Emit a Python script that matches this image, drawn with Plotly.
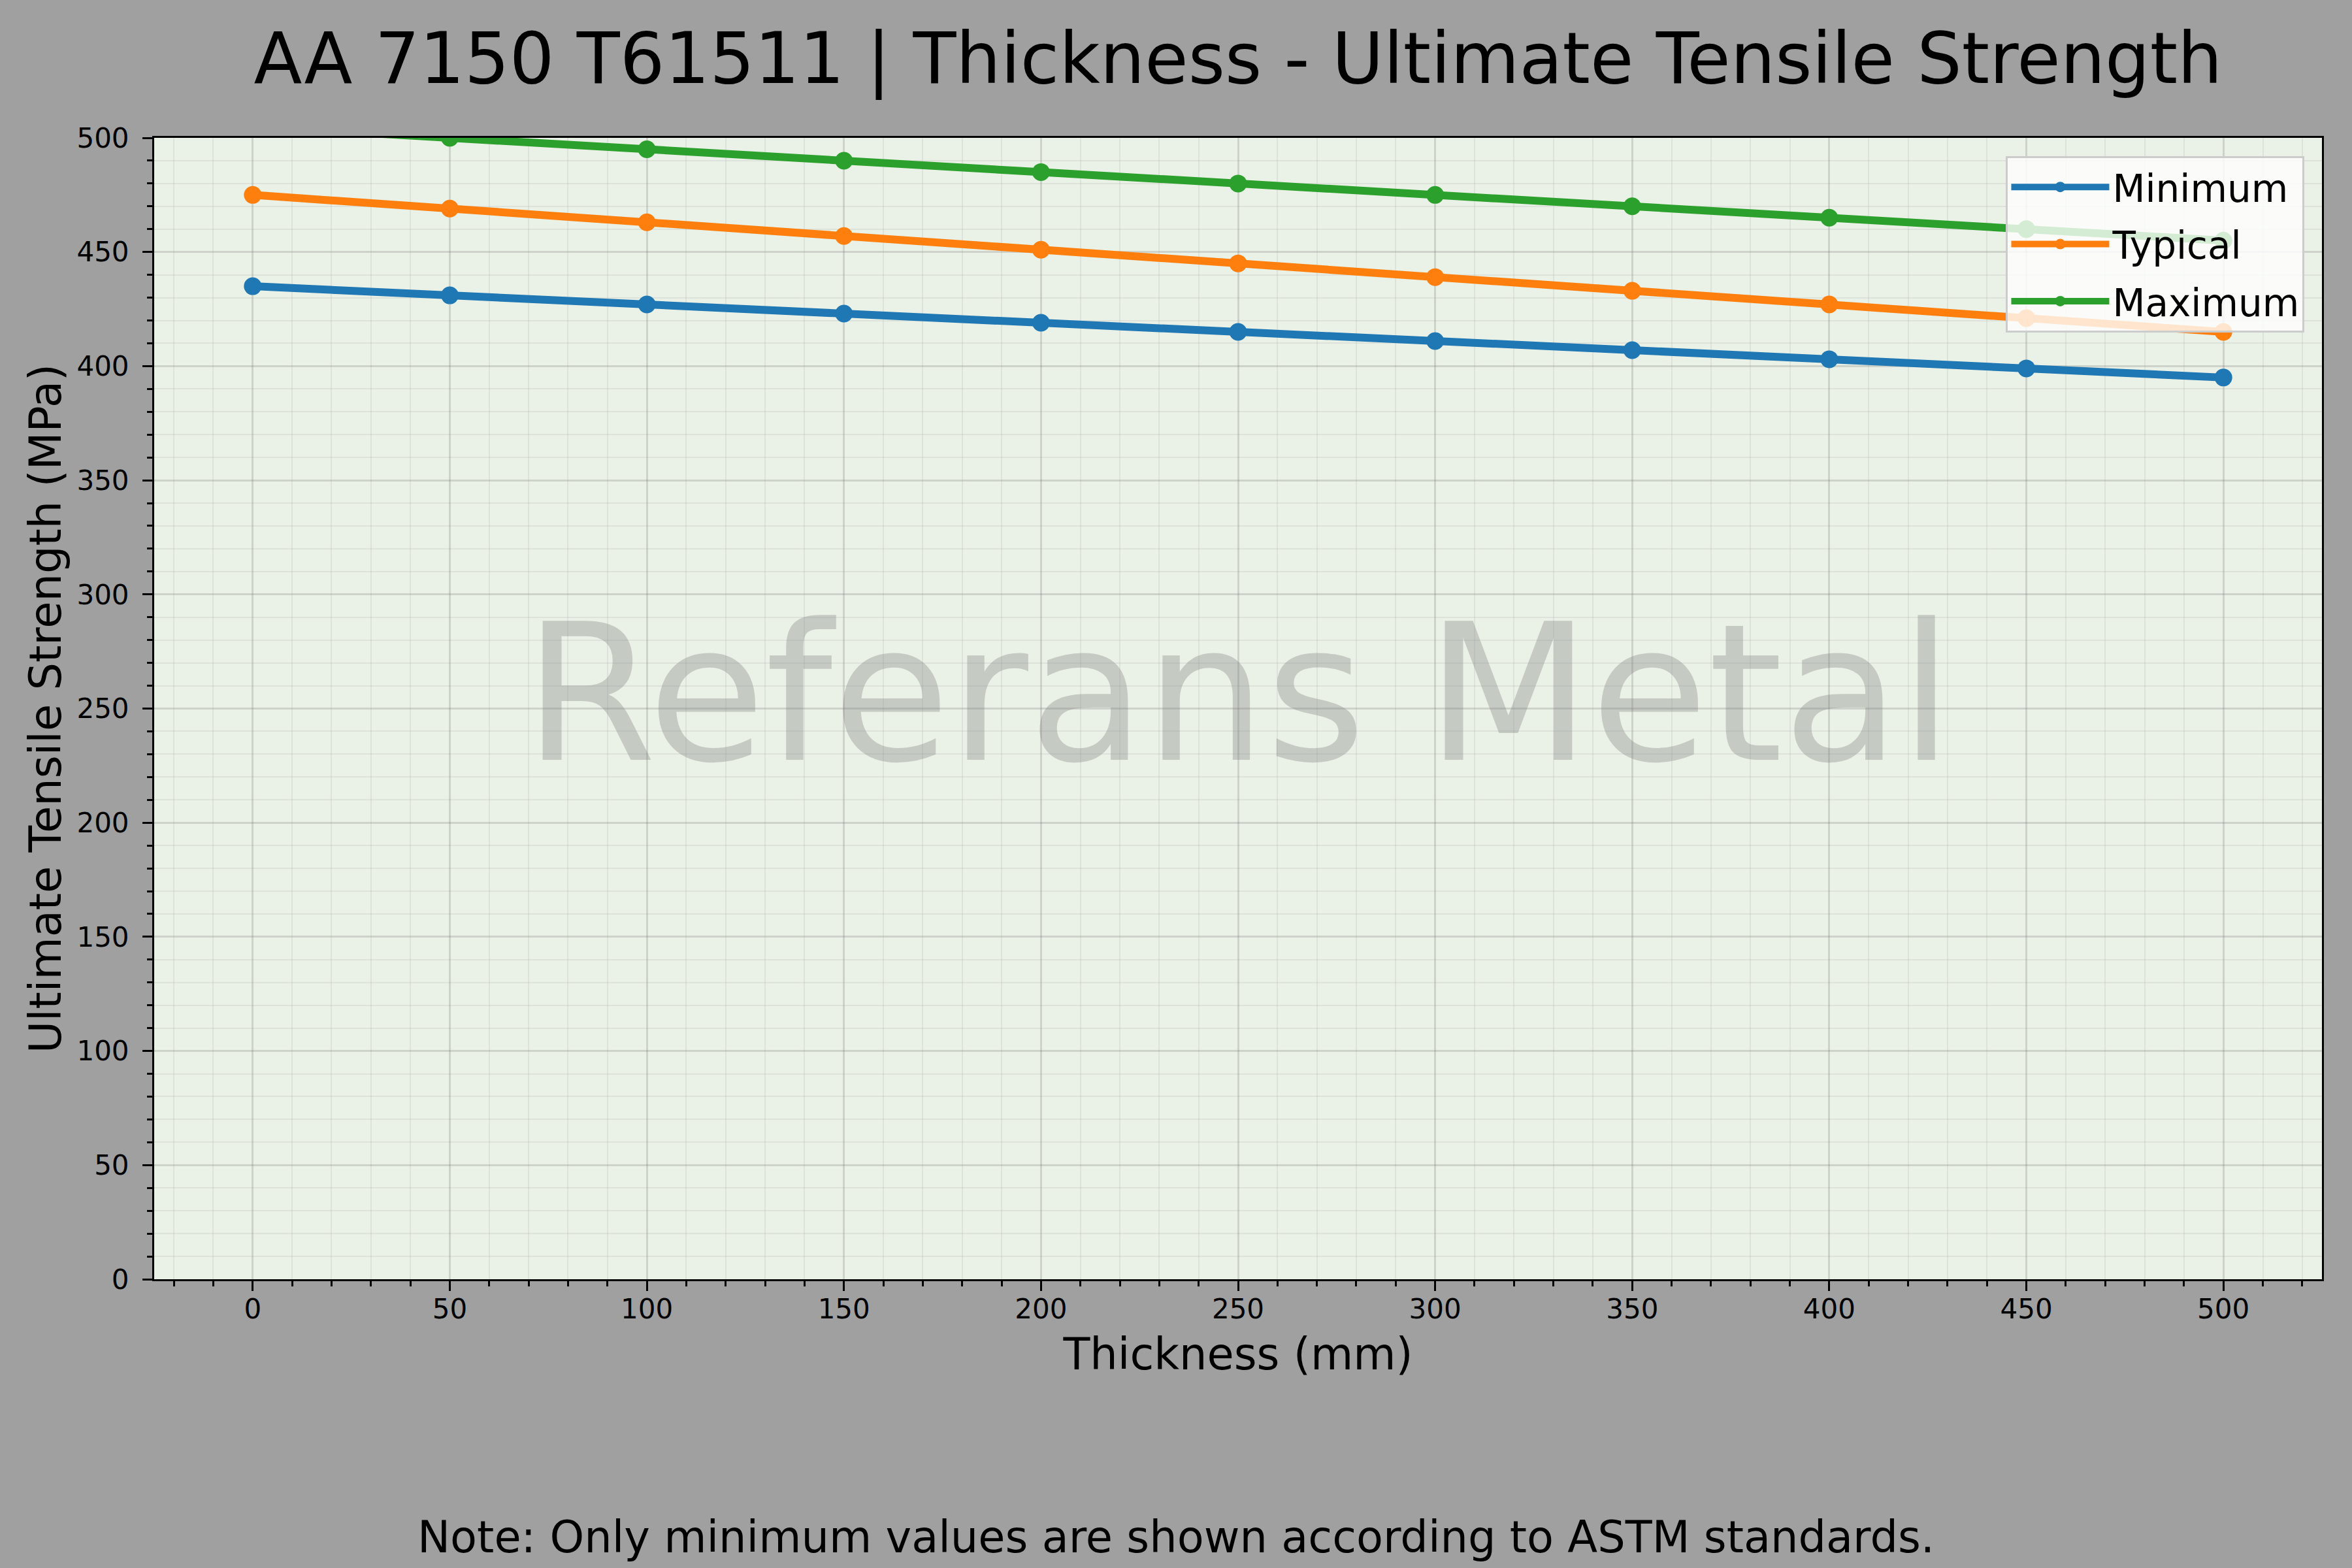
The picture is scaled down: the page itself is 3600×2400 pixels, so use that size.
import plotly.graph_objects as go

# data
thickness = [0, 50, 100, 150, 200, 250, 300, 350, 400, 450, 500]
uts_minimum = [435, 431, 427, 423, 419, 415, 411, 407, 403, 399, 395]
uts_typical = [475, 469, 463, 457, 451, 445, 439, 433, 427, 421, 415]
uts_maximum = [505, 500, 495, 490, 485, 480, 475, 470, 465, 460, 455]

series_names = ['Minimum', 'Typical', 'Maximum']
series_colors = ['#1f77b4', '#ff7f0e', '#2ca02c']

FONT = 'DejaVu Sans'
W, H = 3600, 2400
ML, MR, MT, MB = 236, 46, 211, 442
plot_w = W - ML - MR
plot_h = H - MT - MB

fig = go.Figure()
for name, vals, color in zip(series_names, [uts_minimum, uts_typical, uts_maximum], series_colors):
    fig.add_trace(go.Scatter(
        x=thickness, y=vals, name=name, mode='lines+markers',
        legendgroup=name,
        line=dict(color=color, width=12),
        marker=dict(color=color, size=27),
    ))

axis_common = dict(
    showline=True, mirror=True, linecolor='black', linewidth=3,
    ticks='outside', ticklen=15, tickwidth=3, tickcolor='black',
    tickfont=dict(family=FONT, size=42, color='black'),
    showgrid=True, gridcolor='rgba(128,128,128,0.28)', gridwidth=3,
    zeroline=False,
)
minor_common = dict(
    dtick=10, ticks='outside', ticklen=8, tickwidth=3, tickcolor='black',
    showgrid=True, gridcolor='rgba(128,128,128,0.12)', gridwidth=2,
)

fig.update_xaxes(
    range=[-25, 525], tick0=0, dtick=50, minor=minor_common,
    ticklabelstandoff=-8,
    title=dict(text='Thickness (mm)', font=dict(family=FONT, size=67, color='black'), standoff=22),
    **axis_common,
)
fig.update_yaxes(
    range=[0, 500], tick0=0, dtick=50, minor=minor_common,
    ticklabelstandoff=12,
    title=dict(text='Ultimate Tensile Strength (MPa)', font=dict(family=FONT, size=67, color='black'), standoff=2),
    **axis_common,
)

fig.update_layout(
    width=W, height=H,
    autosize=False,
    margin=dict(l=ML, r=MR, t=MT, b=MB, autoexpand=False),
    paper_bgcolor='#a0a0a0',
    plot_bgcolor='#eaf1e6',
    font=dict(family=FONT, color='black'),
    title=dict(
        text='AA 7150 T61511 | Thickness - Ultimate Tensile Strength',
        font=dict(family=FONT, size=108, color='black'),
        xref='paper', x=0.5, xanchor='center',
        yref='container', y=1 - 89 / H, yanchor='middle',
    ),
    legend=dict(
        x=0.992, y=0.984, xanchor='right', yanchor='top',
        bgcolor='rgba(255,255,255,0.8)', bordercolor='#cccccc', borderwidth=3,
        font=dict(family=FONT, size=58, color='black'),
        itemwidth=150, tracegroupgap=9,
    ),
    showlegend=True,
)

# watermark
fig.add_annotation(
    text='Referans Metal', x=0.5, y=0.513, xref='paper', yref='paper',
    xanchor='center', yanchor='middle', showarrow=False,
    font=dict(family=FONT, size=292, color='rgba(128,128,128,0.35)'),
)

# footnote centred on the figure
fig.add_annotation(
    text='Note: Only minimum values are shown according to ASTM standards.',
    x=(W / 2 - ML) / plot_w, y=(MT + plot_h - 2353) / plot_h,
    xref='paper', yref='paper', xanchor='center', yanchor='middle', showarrow=False,
    font=dict(family=FONT, size=67, color='black'),
)

fig.write_html('out.html', config={'displayModeBar': False},
               post_script="document.body.style.margin='0';")
